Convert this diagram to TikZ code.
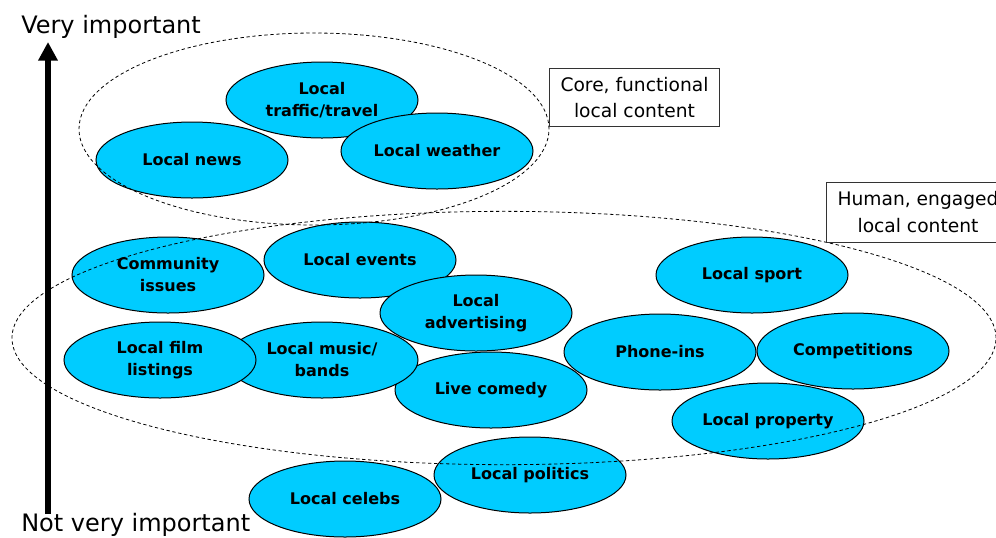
\documentclass[tikz,border=0pt]{standalone}
\usepackage{fontspec}
\setmainfont{DejaVu Sans}
\usetikzlibrary{shapes.geometric,arrows.meta}
\definecolor{bubble}{RGB}{0,204,255}
\begin{document}
\begin{tikzpicture}[x=0.75pt,y=-0.75pt,
  topic/.style={ellipse,draw=black,line width=0.75pt,fill=bubble,minimum width=144pt,minimum height=57pt,inner sep=0pt,align=center,font=\fontsize{12}{16.5}\selectfont\bfseries},
  group/.style={ellipse,draw=black,line width=0.6pt,dash pattern=on 2.5pt off 2pt,inner sep=0pt},
  tag/.style={draw=black!80,line width=0.75pt,fill=white,align=center,font=\fontsize{14}{20}\selectfont,inner sep=0pt},
  axislabel/.style={font=\fontsize{18}{20}\selectfont,inner sep=0pt,anchor=west}]
\useasboundingbox (0,0) rectangle (996,537);
\begin{scope}
\clip (0,0) rectangle (996,537);
% axis
\coordinate (axisbottom) at (48,514);
\coordinate (axistop) at (48,42);
\draw[line width=5pt,-{Triangle[length=14pt,width=14pt]}] (axisbottom) -- (axistop);
\node[axislabel] (veryimp) at (21,27) {Very important};
\node[axislabel] (notimp) at (21,525) {Not very important};
% core topics
\node[topic] (traffic) at (322,100) {Local\\traffic/travel};
\node[topic] (news) at (192,160) {Local news};
\node[topic] (weather) at (437,151) {Local weather};
% engaged topics
\node[topic] (events) at (360,260) {Local events};
\node[topic] (community) at (168,275) {Community\\issues};
\node[topic] (advert) at (476,313) {Local\\advertising};
\node[topic] (comedy) at (491,390) {Live comedy};
\node[topic] (music) at (322,360) {Local music/\\bands};
\node[topic] (film) at (160,360) {Local film\\listings};
\node[topic] (sport) at (752,275) {Local sport};
\node[topic] (phone) at (660,352) {Phone-ins};
\node[topic] (comp) at (853,351) {Competitions};
\node[topic] (property) at (768,421) {Local property};
\node[topic] (celebs) at (345,499) {Local celebs};
\node[topic] (politics) at (530,475) {Local politics};
% groups
\node[group,minimum width=352.5pt,minimum height=144pt] (coregroup) at (314,129) {};
\node[group,minimum width=738pt,minimum height=190pt] (humangroup) at (504,338) {};
% tags
\node[tag,minimum width=128pt,minimum height=44pt] (coretag) at (634.5,97.5) {Core, functional\\local content};
\node[tag,minimum width=138pt,minimum height=45pt] (humantag) at (918,212) {Human, engaged\\local content};
\end{scope}
\end{tikzpicture}
\end{document}
